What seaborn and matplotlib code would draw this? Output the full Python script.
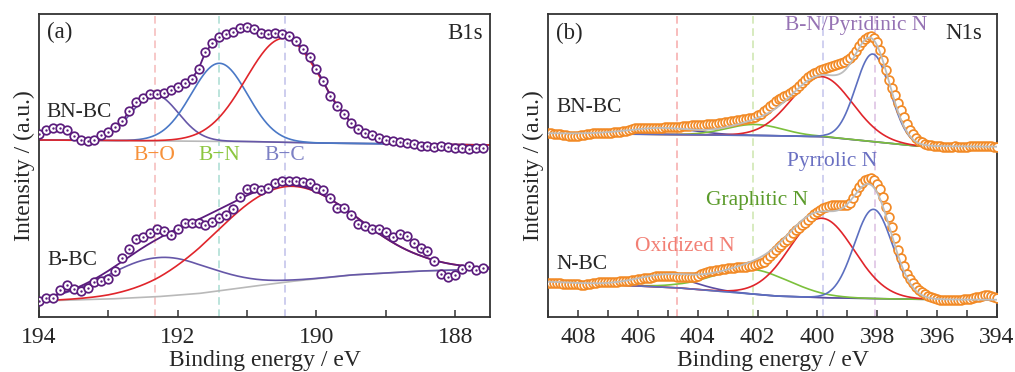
import numpy as np
import pandas as pd
import matplotlib
matplotlib.use("Agg")
import matplotlib.pyplot as plt
import seaborn as sns
from matplotlib.ticker import MultipleLocator

sns.set_style("white")
plt.rcParams["font.family"] = ["Liberation Serif", "DejaVu Serif"]

# ------------------------------------------------------------------ data
# (a) B1s : binding energy grid 194.0 -> 187.6 eV, 0.1 eV step
b1s_energy = np.round(np.arange(194.0, 187.55, -0.1), 2)
b1s_bnbc = [183, 187, 189.2, 189, 186.5, 181, 177.4, 176, 176.8, 181.5,
            185.3, 189.7, 195.5, 206, 214.5, 219, 222.5, 223.3, 224.3, 226.5,
            230, 234, 238, 248, 265, 273.5, 280, 282.5, 285, 288.5,
            290.2, 288, 283.5, 282.8, 283.6, 282.9, 281, 276, 268, 259.5,
            247.5, 235.5, 221, 211, 203, 194, 187.5, 184, 181.5, 179,
            177, 176, 174.6, 173.7, 173.3, 171.2, 170.8, 170.5, 171, 170.5,
            168.7, 169, 168.5, 168.8, 168.6]
b1s_bbc = [16, 19, 19, 27.5, 32.5, 28.5, 26, 29, 35, 36,
           38, 46, 59, 68, 78.5, 80.5, 84, 88, 86.5, 82.5,
           88.5, 94, 94, 94, 92, 95, 99, 102, 108.5, 120,
           128.5, 129.5, 127.5, 129, 134, 136, 136, 136, 135, 134,
           129, 127, 119, 109, 109, 102, 93, 91, 88, 88,
           85, 80, 83, 81, 74, 69, 66, 56, 43, 40,
           42, 48, 51, 47, 49]

# backgrounds (anchor energies / intensities)
b1s_bg_bnbc_e = [194.0, 191.0, 190.0, 188.0, 187.5]
b1s_bg_bnbc_i = [177.0, 175.5, 174.0, 172.5, 172.0]
b1s_bg_bbc_e = [194.0, 193.0, 192.3, 191.7, 191.0, 190.4, 189.5, 188.5, 187.5]
b1s_bg_bbc_i = [16.0, 18.0, 20.3, 23.5, 30.0, 35.3, 42.0, 46.0, 48.0]

# fitted components: centre (eV), height, FWHM (eV)
b1s_bnbc_center = [192.33, 191.40, 190.47]
b1s_bnbc_height = [46, 78, 104]
b1s_bnbc_fwhm = [0.80, 0.95, 1.28]
b1s_bbc_center = [192.27, 190.45]
b1s_bbc_height = [39, 95.5]
b1s_bbc_fwhm = [1.75, 2.40]

b1s_ref_lines = [192.33, 191.40, 190.45]
b1s_ref_labels = ["B\u2212O", "B\u2212N", "B\u2212C"]

# (b) N1s : binding energy grid 409.0 -> 394.0 eV, 0.1 eV step
n1s_energy = np.round(np.arange(409.0, 393.95, -0.1), 2)
n1s_bnbc = [183.7, 183.5, 183.2, 183.0, 182.7, 182.2, 181.7, 181.2, 181.0, 180.8,
            181.0, 181.5, 182.0, 182.7, 183.2, 183.5, 183.7, 183.8, 184.0, 184.0,
            184.2, 184.4, 184.5, 184.8, 185.2, 185.7, 186.4, 187.2, 188.0, 188.7,
            189.2, 189.4, 189.4, 189.2, 189.1, 189.0, 189.0, 189.2, 189.4, 189.5,
            189.5, 189.7, 190.0, 190.2, 190.4, 190.6, 191.0, 191.4, 191.7, 192.0,
            192.0, 192.1, 192.3, 192.5, 192.6, 192.7, 193.0, 193.5, 194.0, 194.5,
            195.0, 195.5, 196.0, 196.5, 197.0, 197.5, 198.0, 198.6, 199.4, 200.3,
            201.5, 203.2, 205.5, 208.2, 211.0, 213.2, 215.5, 217.5, 219.2, 220.7,
            222.2, 223.8, 225.7, 228.0, 230.5, 233.5, 236.5, 239.5, 242.0, 243.8,
            245.2, 246.7, 248.0, 249.0, 250.0, 251.0, 252.0, 253.0, 254.0, 255.2,
            256.7, 259.0, 262.0, 266.0, 270.5, 274.7, 278.0, 280.0, 280.5, 279.0,
            275.0, 267.0, 257.0, 246.5, 237.0, 228.5, 221.5, 214.0, 206.5, 199.5,
            193.0, 187.0, 182.5, 179.0, 176.5, 174.8, 173.5, 172.5, 171.8, 171.3,
            171.0, 170.7, 170.4, 170.2, 170.2, 170.4, 170.6, 170.5, 170.3, 170.2,
            170.4, 170.7, 171.0, 171.2, 171.2, 171.0, 170.8, 171.0, 170.8, 170.2,
            169.7]
n1s_nbc = [34.3, 34.2, 34.0, 33.9, 33.7, 33.5, 33.3, 33.0, 32.8, 32.7,
           32.6, 32.5, 32.5, 32.7, 33.2, 34.0, 34.5, 34.7, 34.8, 34.9,
           35.0, 35.0, 35.2, 35.4, 35.6, 35.8, 36.1, 36.4, 36.8, 37.2,
           37.7, 38.2, 38.6, 39.0, 39.5, 40.0, 40.6, 41.0, 41.2, 41.2,
           41.1, 41.0, 40.7, 40.3, 39.8, 39.6, 39.7, 39.9, 40.1, 40.5,
           41.3, 43.0, 44.2, 45.0, 45.8, 46.5, 47.0, 47.4, 47.8, 48.2,
           48.6, 48.9, 49.2, 49.6, 49.9, 50.1, 50.4, 50.7, 51.2, 51.8,
           52.6, 53.8, 55.5, 58.0, 61.0, 64.0, 67.5, 70.0, 72.5, 74.8,
           77.5, 80.5, 83.7, 86.7, 89.5, 92.0, 94.5, 97.5, 100.5, 103.2,
           105.5, 107.5, 109.2, 110.4, 111.2, 111.7, 112.0, 112.0, 112.0, 112.0,
           112.5, 114.5, 118.7, 125.0, 130.0, 134.0, 137.0, 138.4, 138.7, 137.5,
           133.5, 128.5, 120.0, 110.0, 100.5, 90.0, 79.5, 67.0, 59.0, 51.0,
           43.0, 38.0, 34.0, 30.5, 27.5, 24.8, 23.0, 21.5, 20.4, 19.2,
           18.2, 17.4, 17.0, 16.9, 16.9, 17.0, 17.1, 17.2, 17.4, 17.6,
           18.0, 18.5, 19.2, 19.8, 20.4, 21.0, 21.6, 21.8, 21.2, 20.2,
           19.5]

n1s_bg_bnbc_e = [409.0, 405.0, 401.4, 399.8, 398.1, 396.7, 394.0]
n1s_bg_bnbc_i = [183.7, 182.5, 181.3, 180.3, 175.3, 171.0, 170.3]
n1s_bg_nbc_e = [409.0, 407.0, 404.8, 403.0, 401.4, 399.8, 398.0, 396.0, 394.0]
n1s_bg_nbc_i = [35.3, 32.5, 29.5, 25.0, 21.0, 19.3, 18.3, 17.5, 17.3]

# components order: oxidized, graphitic, pyrrolic, B-N/pyridinic
n1s_bnbc_center = [405.2, 402.1, 399.85, 398.15]
n1s_bnbc_height = [6.5, 11, 60, 87.5]
n1s_bnbc_fwhm = [2.6, 2.2, 2.4, 1.35]
n1s_nbc_center = [405.1, 402.2, 399.86, 398.13]
n1s_nbc_height = [11, 24.8, 79.4, 89.3]
n1s_nbc_fwhm = [2.3, 3.0, 2.55, 1.5]

n1s_ref_lines = [404.7, 402.15, 399.8, 398.08]

# ------------------------------------------------------------------ style
C_PURPLE_DATA = "#5b1c7d"
C_BO = "#6657a8"
C_BN = "#4a78c6"
C_RED = "#e0252b"
C_GRAY = "#b9b9b9"
C_ORANGE = "#f28a26"
C_NPURP = "#5a4da3"
C_NGREEN = "#7cc03c"
C_NBLUE = "#5c6fc0"

FS_AX = 17      # tick labels, axis labels
FS_TXT = 15.5   # annotations inside panels
FS_TAG = 16.5   # (a), (b), B1s, N1s


def peak(x, c, h, w):
    return h * np.exp(-4 * np.log(2) * ((x - c) / w) ** 2)


def background(x, e, i):
    e = np.asarray(e)[::-1]
    i = np.asarray(i)[::-1]
    return np.interp(x, e, i)


def line(ax, x, y, color, lw=1.2, z=2):
    sns.lineplot(x=x, y=y, ax=ax, color=color, lw=lw, sort=False,
                 estimator=None, zorder=z)


def rings(ax, x, y, edge, s=38, lw=1.25, dot=None):
    sns.scatterplot(x=x, y=y, ax=ax, marker="o", s=s, color=edge,
                    facecolor="white", edgecolor=edge, linewidth=lw, zorder=6)
    if dot is not None:
        sns.scatterplot(x=x, y=y, ax=ax, marker="o", s=3, color=dot,
                        linewidth=0, zorder=7)


fig = plt.figure(figsize=(10.15, 3.72), dpi=100)
axa = fig.add_axes([0.0384, 0.1478, 0.4443, 0.8146])
axb = fig.add_axes([0.5399, 0.1478, 0.4424, 0.8146])

# ------------------------------------------------------------------ panel (a)
xa = np.linspace(194.0, 187.5, 600)
ref_cols_a = ["#f5b9b9", "#a9dcd2", "#c0c0ea"]
lab_cols_a = ["#f7913a", "#8cc63f", "#7c80c4"]
for xv, col in zip(b1s_ref_lines, ref_cols_a):
    axa.axvline(xv, color=col, ls=(0, (5, 3)), lw=1.1, zorder=0.5)

bg1 = background(xa, b1s_bg_bnbc_e, b1s_bg_bnbc_i)
line(axa, xa, bg1, C_GRAY)
for c, h, w, col in zip(b1s_bnbc_center, b1s_bnbc_height, b1s_bnbc_fwhm,
                        [C_BO, C_BN, C_RED]):
    line(axa, xa, bg1 + peak(xa, c, h, w), col)
line(axa, b1s_energy, np.array(b1s_bnbc), C_PURPLE_DATA, lw=1.3, z=5)
rings(axa, b1s_energy, b1s_bnbc, C_PURPLE_DATA, dot=C_PURPLE_DATA)

bg2 = background(xa, b1s_bg_bbc_e, b1s_bg_bbc_i)
line(axa, xa, bg2, C_GRAY)
comps2 = [peak(xa, c, h, w) for c, h, w in
          zip(b1s_bbc_center, b1s_bbc_height, b1s_bbc_fwhm)]
line(axa, xa, bg2 + comps2[0], C_BO)
line(axa, xa, bg2 + comps2[1], C_RED)
line(axa, xa, bg2 + comps2[0] + comps2[1], C_PURPLE_DATA, lw=1.3, z=3)
rings(axa, b1s_energy, b1s_bbc, C_PURPLE_DATA, dot=C_PURPLE_DATA)

for xv, lab, col in zip(b1s_ref_lines, b1s_ref_labels, lab_cols_a):
    axa.text(xv, 162, lab, color=col, fontsize=FS_TXT, ha="center", va="center")

axa.text(0.018, 0.94, "(a)", transform=axa.transAxes, fontsize=FS_TAG,
         ha="left", va="center")
axa.text(0.985, 0.937, "B1s", transform=axa.transAxes, fontsize=FS_TAG,
         ha="right", va="center")
axa.text(0.016, 0.675, "BN-BC", transform=axa.transAxes, fontsize=FS_TXT,
         ha="left", va="center")
axa.text(0.018, 0.185, "B-BC", transform=axa.transAxes, fontsize=FS_TXT,
         ha="left", va="center")
axa.set_xlim(194.0, 187.5)
axa.xaxis.set_major_locator(MultipleLocator(2))
axa.xaxis.set_minor_locator(MultipleLocator(1))

# ------------------------------------------------------------------ panel (b)
xb = np.linspace(409.0, 394.0, 900)
ref_cols_b = ["#f6a9a9", "#cde6ad", "#c3c3ec", "#dbbfe2"]
for xv, col in zip(n1s_ref_lines, ref_cols_b):
    axb.axvline(xv, color=col, ls=(0, (5, 3)), lw=1.1, zorder=0.5)

for data, bge, bgi, cs, hs, ws in [
        (n1s_bnbc, n1s_bg_bnbc_e, n1s_bg_bnbc_i, n1s_bnbc_center,
         n1s_bnbc_height, n1s_bnbc_fwhm),
        (n1s_nbc, n1s_bg_nbc_e, n1s_bg_nbc_i, n1s_nbc_center,
         n1s_nbc_height, n1s_nbc_fwhm)]:
    bg = background(xb, bge, bgi)
    comps = [peak(xb, c, h, w) for c, h, w in zip(cs, hs, ws)]
    line(axb, xb, bg, C_GRAY)
    for comp, col in zip(comps, [C_NPURP, C_NGREEN, C_RED, C_NBLUE]):
        line(axb, xb, bg + comp, col)
    rings(axb, n1s_energy, data, C_ORANGE, s=40, lw=1.25)
    line(axb, xb, bg + sum(comps), "#bdbdbd", lw=1.3, z=8)

axb.text(398.71, 291, "B-N/Pyridinic N", color="#9673b4", fontsize=FS_TXT,
         ha="center", va="center")
axb.text(399.5, 156, "Pyrrolic N", color="#6a70c2", fontsize=FS_TXT,
         ha="center", va="center")
axb.text(402.02, 117, "Graphitic N", color="#5b9b2b", fontsize=FS_TXT,
         ha="center", va="center")
axb.text(404.44, 70.5, "Oxidized N", color="#f27f74", fontsize=FS_TXT,
         ha="center", va="center")
axb.text(0.018, 0.935, "(b)", transform=axb.transAxes, fontsize=FS_TAG,
         ha="left", va="center")
axb.text(0.967, 0.935, "N1s", transform=axb.transAxes, fontsize=FS_TAG,
         ha="right", va="center")
axb.text(0.018, 0.69, "BN-BC", transform=axb.transAxes, fontsize=FS_TXT,
         ha="left", va="center")
axb.text(0.018, 0.172, "N-BC", transform=axb.transAxes, fontsize=FS_TXT,
         ha="left", va="center")
axb.set_xlim(409.0, 394.0)
axb.xaxis.set_major_locator(MultipleLocator(2))
axb.xaxis.set_minor_locator(MultipleLocator(1))

# ------------------------------------------------------------------ common
for ax in (axa, axb):
    ax.set_ylim(0, 303)
    ax.set_yticks([])
    ax.set_xlabel("Binding energy / eV", fontsize=FS_AX, labelpad=1.5)
    ax.set_ylabel("Intensity / (a.u.)", fontsize=FS_AX, labelpad=3)
    ax.tick_params(axis="x", which="both", direction="in", length=5,
                   width=1.1, labelsize=FS_AX, pad=7, top=False, bottom=True,
                   color="#333333")
    for sp in ax.spines.values():
        sp.set_color("#333333")
        sp.set_linewidth(1.3)
    ax.grid(False)

fig.savefig("out.png", dpi=100)
